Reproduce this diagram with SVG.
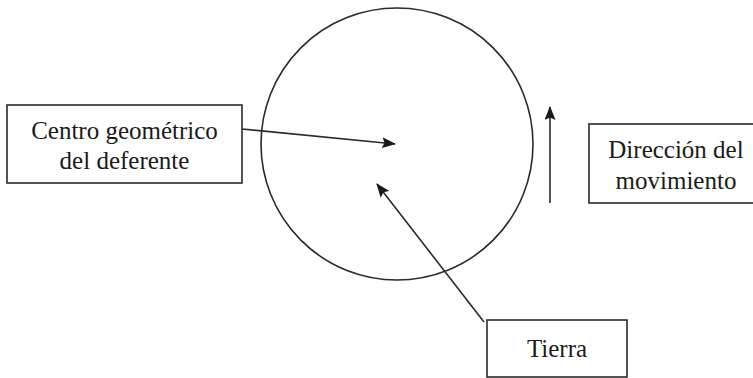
<svg xmlns="http://www.w3.org/2000/svg" width="753" height="378" viewBox="0 0 753 378">
  <style>
    .box { fill: #ffffff; stroke: #2a2a2a; stroke-width: 1.6; }
    .lbl { font-family: "Liberation Serif", "Times New Roman", serif; font-size: 25px; fill: #1a1a1a; text-anchor: middle; }
    .orb { fill: none; stroke: #2a2a2a; stroke-width: 1.6; }
    .conn { fill: none; stroke: #2a2a2a; stroke-width: 1.6; marker-end: url(#head); }
  </style>
  <defs>
    <marker id="head" viewBox="0 0 14 11" refX="13" refY="5.5" markerWidth="14" markerHeight="11" markerUnits="userSpaceOnUse" orient="auto">
      <path d="M0,0 L14,5.5 L0,11 L2.5,5.5 Z" fill="#1a1a1a"/>
    </marker>
  </defs>
  <rect width="753" height="378" fill="#ffffff"/>

  <!-- deferent circle -->
  <g id="deferente">
    <circle class="orb" cx="397" cy="144" r="136"/>
  </g>

  <g id="centro">
    <rect class="box" x="7" y="105" width="235" height="78"/>
    <text class="lbl" x="124.5" y="139">Centro geométrico</text>
    <text class="lbl" x="124.5" y="169">del deferente</text>
  </g>

  <g id="direccion">
    <rect class="box" x="589" y="124" width="170" height="79"/>
    <text class="lbl" x="676" y="158">Dirección del</text>
    <text class="lbl" x="676" y="189">movimiento</text>
  </g>

  <g id="tierra">
    <rect class="box" x="487" y="320" width="140" height="57"/>
    <text class="lbl" x="557" y="357">Tierra</text>
  </g>

  <g id="connectors">
    <line class="conn" x1="242" y1="129" x2="395" y2="144"/>
    <line class="conn" x1="484" y1="322" x2="377" y2="184"/>
    <line class="conn" x1="550" y1="203" x2="550" y2="107"/>
  </g>
</svg>
